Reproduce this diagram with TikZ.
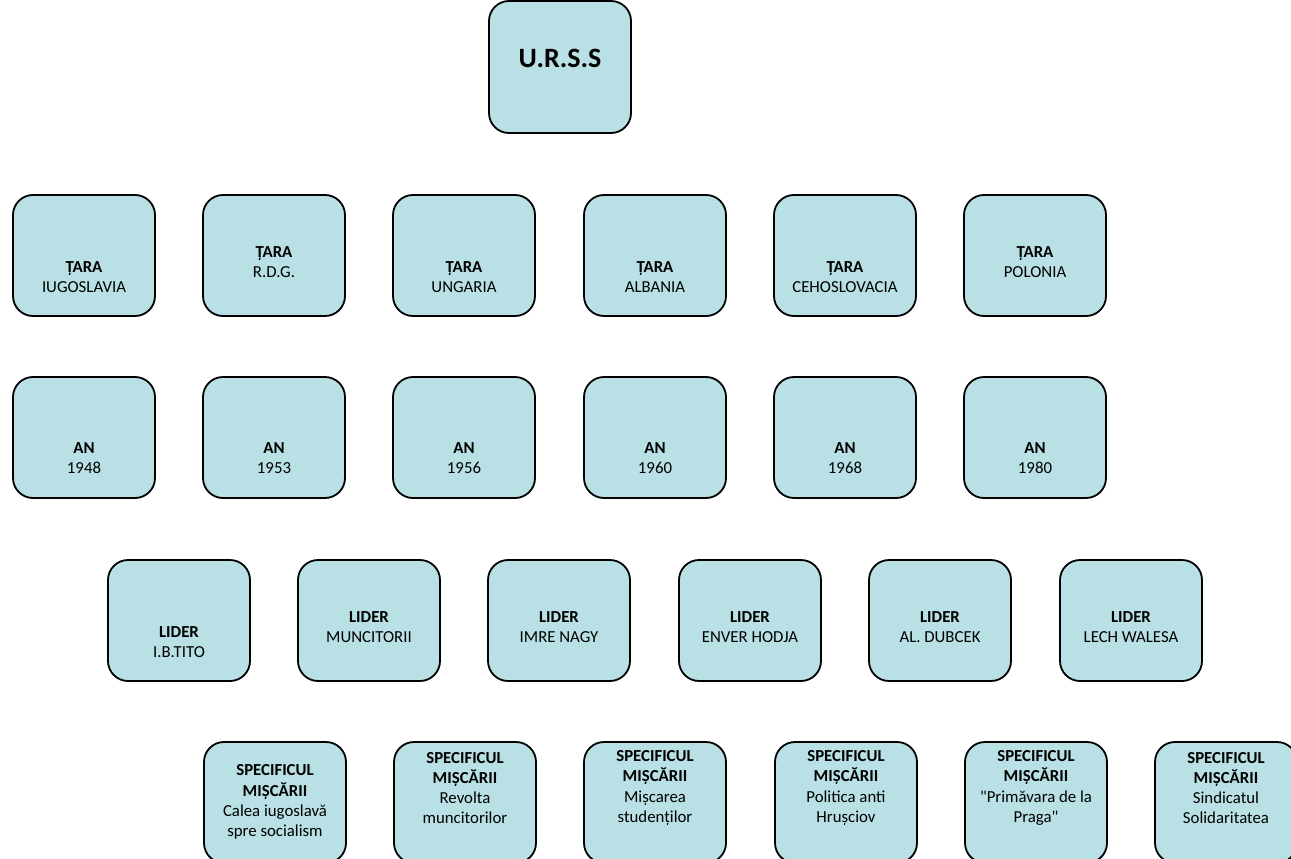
\documentclass[tikz,border=0pt]{standalone}
\usepackage{fontspec}
\setmainfont{Carlito}[Ligatures=TeXOff]
\definecolor{boxfill}{RGB}{185,224,228}
\newcommand\cellbox[5]{%
  \node[boxnode] (#1) at (#2,#3) {};
  \node[lbl] (#1t) at (#2,#4) {#5};}
\begin{document}
\begin{tikzpicture}[x=1pt,y=-1pt,
  boxnode/.style={draw=black, line width=1.8pt, fill=boxfill, rounded corners=20pt,
    minimum width=142pt, minimum height=121pt, inner sep=0pt},
  lbl/.style={align=center, font=\fontsize{16.8}{20.2}\selectfont, inner sep=0pt, text=black}]
\useasboundingbox (0,0) rectangle (1291,859);
\clip (0,0) rectangle (1291,859);
% top
\node[boxnode, minimum height=132pt] (urss) at (560,67) {};
\node[lbl, font=\bfseries\fontsize{28}{32}\selectfont] (ursst) at (560,58) {U.R.S.S};
% row 1
\cellbox{t1}{84}{255.5}{277}{{\bfseries ȚARA}\\IUGOSLAVIA}
\cellbox{t2}{274}{255.5}{262}{{\bfseries ȚARA}\\R.D.G.}
\cellbox{t3}{464}{255.5}{277}{{\bfseries ȚARA}\\UNGARIA}
\cellbox{t4}{655}{255.5}{277}{{\bfseries ȚARA}\\ALBANIA}
\cellbox{t5}{845}{255.5}{277}{{\bfseries ȚARA}\\CEHOSLOVACIA}
\cellbox{t6}{1035}{255.5}{262}{{\bfseries ȚARA}\\POLONIA}
% row 2
\cellbox{a1}{84}{437.5}{458}{{\bfseries AN}\\1948}
\cellbox{a2}{274}{437.5}{458}{{\bfseries AN}\\1953}
\cellbox{a3}{464}{437.5}{458}{{\bfseries AN}\\1956}
\cellbox{a4}{655}{437.5}{458}{{\bfseries AN}\\1960}
\cellbox{a5}{845}{437.5}{458}{{\bfseries AN}\\1968}
\cellbox{a6}{1035}{437.5}{458}{{\bfseries AN}\\1980}
% row 3
\cellbox{l1}{179}{620.5}{642}{{\bfseries LIDER}\\I.B.TITO}
\cellbox{l2}{369}{620.5}{627}{{\bfseries LIDER}\\MUNCITORII}
\cellbox{l3}{559}{620.5}{627}{{\bfseries LIDER}\\IMRE NAGY}
\cellbox{l4}{750}{620.5}{627}{{\bfseries LIDER}\\ENVER HODJA}
\cellbox{l5}{940}{620.5}{627}{{\bfseries LIDER}\\AL. DUBCEK}
\cellbox{l6}{1131}{620.5}{627}{{\bfseries LIDER}\\LECH WALESA}
% row 4
\cellbox{s1}{275}{802.5}{802}{{\bfseries SPECIFICUL}\\{\bfseries MIȘCĂRII}\\Calea iugoslavă\\spre socialism}
\cellbox{s2}{465}{802.5}{788}{{\bfseries SPECIFICUL}\\{\bfseries MIȘCĂRII}\\Revolta\\muncitorilor}
\cellbox{s3}{655}{802.5}{788}{{\bfseries SPECIFICUL}\\{\bfseries MIȘCĂRII}\\Mișcarea\\studenților}
\cellbox{s4}{846}{802.5}{788}{{\bfseries SPECIFICUL}\\{\bfseries MIȘCĂRII}\\Politica anti\\Hrușciov}
\cellbox{s5}{1036}{802.5}{788}{{\bfseries SPECIFICUL}\\{\bfseries MIȘCĂRII}\\"Primăvara de la\\Praga"}
\cellbox{s6}{1226}{802.5}{788}{{\bfseries SPECIFICUL}\\{\bfseries MIȘCĂRII}\\Sindicatul\\Solidaritatea}
\end{tikzpicture}
\end{document}
